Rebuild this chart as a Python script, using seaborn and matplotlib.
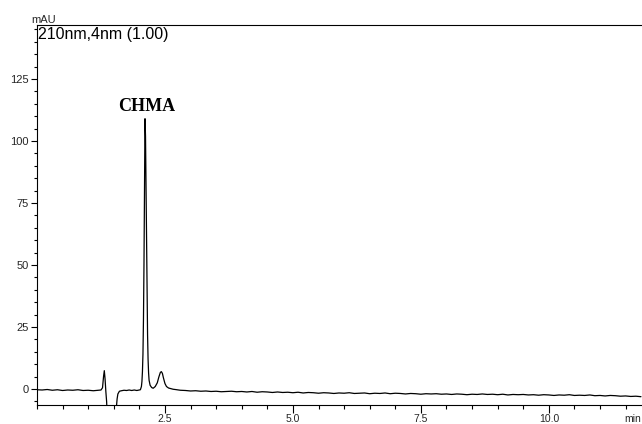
import matplotlib
matplotlib.use("Agg")
import matplotlib.pyplot as plt
import seaborn as sns
import pandas as pd
from matplotlib.ticker import MultipleLocator

# Chromatogram trace (time in min, signal in mAU)
pre_time = [0.0, 0.1, 0.2, 0.3, 0.4, 0.5, 0.6, 0.7, 0.8, 0.9, 1.0, 1.1, 1.2, 1.25]
pre_mau = [-0.3, -0.4, -0.2, -0.5, -0.3, -0.6, -0.4, -0.5, -0.3, -0.6, -0.5, -0.7, -0.5, -0.4]

dip_time = [1.28, 1.30, 1.315, 1.33, 1.345, 1.36, 1.375, 1.40, 1.45, 1.50, 1.52, 1.55, 1.565, 1.58, 1.61]
dip_mau = [0.5, 5.0, 7.4, 4.0, -1.0, -5.0, -12.0, -20.0, -25.0, -20.0, -15.0, -8.0, -4.0, -2.0, -0.9]

mid_time = [1.65, 1.70, 1.75, 1.80, 1.85, 1.90, 1.95, 2.00, 2.02]
mid_mau = [-0.7, -0.5, -0.6, -0.4, -0.6, -0.4, -0.6, -0.4, -0.3]

peak_time = [2.04, 2.05, 2.06, 2.07, 2.08, 2.09, 2.10, 2.11, 2.12, 2.13, 2.14, 2.15,
             2.16, 2.17, 2.18, 2.19, 2.21, 2.24, 2.27, 2.31, 2.35, 2.38, 2.41, 2.43,
             2.45, 2.47, 2.50, 2.53, 2.57, 2.62, 2.66]
peak_mau = [1.0, 3.0, 7.0, 14.0, 28.0, 50.0, 80.0, 109.0, 102.0, 82.0, 58.0, 38.0,
            22.0, 12.0, 6.5, 3.5, 1.5, 0.6, 0.3, 1.0, 2.5, 4.8, 6.7, 7.0,
            6.3, 4.5, 2.2, 1.0, 0.4, 0.1, -0.1]

tail_start = 2.7
tail_mau = [-0.2, -0.5, -0.6, -0.8, -0.7, -0.9, -0.8, -1.0, -0.9, -1.1,
            -1.0, -0.9, -1.1, -1.0, -1.2, -1.0, -1.3, -1.1, -1.2, -1.4,
            -1.2, -1.4, -1.3, -1.5, -1.3, -1.6, -1.4, -1.5, -1.7, -1.5,
            -1.6, -1.8, -1.6, -1.7, -1.5, -1.8, -1.7, -1.6, -1.9, -1.7,
            -1.8, -1.6, -1.9, -1.7, -1.8, -2.0, -1.8, -1.9, -2.1, -1.9,
            -2.0, -1.9, -2.1, -2.0, -2.2, -2.0, -2.1, -2.3, -2.1, -2.2,
            -2.0, -2.2, -2.1, -2.3, -2.1, -2.4, -2.2, -2.3, -2.2, -2.4,
            -2.3, -2.5, -2.3, -2.4, -2.6, -2.4, -2.5, -2.3, -2.6, -2.5,
            -2.6, -2.4, -2.7, -2.6, -2.8, -2.6, -2.7, -2.9, -2.8, -3.0,
            -2.9, -3.1]
tail_time = [round(tail_start + 0.1 * i, 2) for i in range(len(tail_mau))]

time = pre_time + dip_time + mid_time + peak_time + tail_time
mau = pre_mau + dip_mau + mid_mau + peak_mau + tail_mau

x_major = [2.5, 5.0, 7.5, 10.0]
x_labels = ["2.5", "5.0", "7.5", "10.0"]
y_major = [0, 25, 50, 75, 100, 125]
y_labels = ["0", "25", "50", "75", "100", "125"]

peak_label = "CHMA"
peak_label_pos = (2.15, 112)
channel_text = "210nm,4nm (1.00)"
y_unit = "mAU"
x_unit = "min"

df = pd.DataFrame({"time": time, "mau": mau})

sns.set_style("white")
plt.rcParams["font.family"] = ["Liberation Sans", "DejaVu Sans"]

fig = plt.figure(figsize=(6.42, 4.24), dpi=100)
ax = fig.add_axes([37 / 642, 1 - 405 / 424, 1 - 37 / 642, (405 - 25) / 424])

sns.lineplot(data=df, x="time", y="mau", ax=ax, color="black", linewidth=0.9,
             estimator=None, sort=False)

ax.set_xlim(0, 11.82)
ax.set_ylim(-6.45, 146.8)
ax.set_xlabel("")
ax.set_ylabel("")

ax.set_xticks(x_major)
ax.set_xticklabels(x_labels)
ax.set_yticks(y_major)
ax.set_yticklabels(y_labels)
ax.xaxis.set_minor_locator(MultipleLocator(0.5))
ax.yaxis.set_minor_locator(MultipleLocator(5))

ax.tick_params(axis="x", which="major", direction="out", length=5.8, width=0.8,
               labelsize=7.5, color="black", pad=0.6)
ax.tick_params(axis="x", which="minor", direction="out", length=3, width=0.8,
               color="black")
ax.tick_params(axis="y", which="major", direction="out", length=4.5, width=0.8,
               labelsize=8, color="black", pad=1.5)
ax.tick_params(axis="y", which="minor", direction="out", length=2.4, width=0.8,
               color="black")
ax.tick_params(axis="x", which="both", bottom=True)
ax.tick_params(axis="y", which="both", left=True)

for side in ["left", "bottom", "top"]:
    ax.spines[side].set_visible(True)
    ax.spines[side].set_color("black")
    ax.spines[side].set_linewidth(0.8)
ax.spines["right"].set_visible(False)

ax.text(0.002, 0.995, channel_text, transform=ax.transAxes, ha="left", va="top",
        fontsize=11.5, color="black")
ax.text(peak_label_pos[0], peak_label_pos[1], peak_label, ha="center", va="baseline",
        fontsize=13, fontweight="bold", family=["Liberation Serif", "DejaVu Serif"],
        color="black")
fig.text(31 / 642, 1 - 23 / 424, y_unit, ha="left", va="baseline", fontsize=8)
fig.text(641 / 642, 1 - 414 / 424, x_unit, ha="right", va="top", fontsize=7.5)

fig.savefig("out.png", dpi=100)
